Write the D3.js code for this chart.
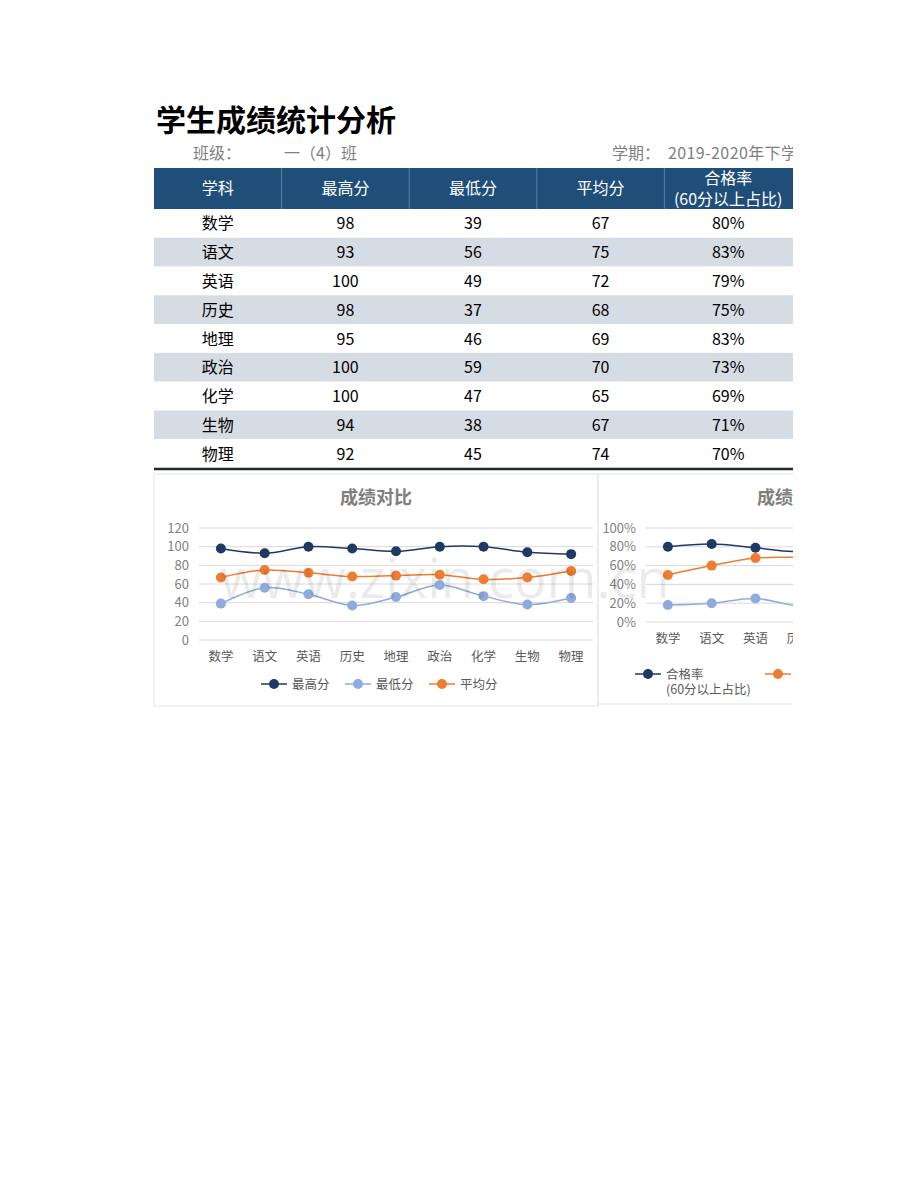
<!DOCTYPE html>
<html><head><meta charset="utf-8">
<script src="https://cdn.jsdelivr.net/npm/d3@7"></script>
<style>
html,body{margin:0;padding:0;background:#fff;}
svg{display:block;font-family:"Noto Sans CJK SC","Noto Sans",sans-serif;}
</style></head>
<body>
<svg id="c" width="920" height="1191"></svg>
<script>
const subjects = ['数学','语文','英语','历史','地理','政治','化学','生物','物理'];
const maxScores = [98,93,100,98,95,100,100,94,92];
const minScores = [39,56,49,37,46,59,47,38,45];
const avgScores = [67,75,72,68,69,70,65,67,74];
const passRates = [80,83,79,75,83,73,69,71,70];
const rateOrange = [50,60,68,69,72,70,64,66,72];
const rateLight = [18,20,25,17,20,30,19,17,21];
const headers = ['学科','最高分','最低分','平均分','合格率'];
const scoreTicks = [0,20,40,60,80,100,120];
const rateTicks = [0,20,40,60,80,100];

const VISIBLE_RIGHT = 793;
const C_DARK = '#203864', C_LIGHT = '#8faadc', C_ORANGE = '#ed7d31';
const svg = d3.select('#c');
svg.append('defs').append('clipPath').attr('id','clip')
  .append('rect').attr('x',0).attr('y',0).attr('width',VISIBLE_RIGHT).attr('height',1191);
const root = svg.append('g').attr('clip-path','url(#clip)');

// Title
root.append('text').attr('x',156).attr('y',131).attr('font-size',30).attr('font-weight',700)
  .attr('fill','#000').text('学生成绩统计分析');
const sub = root.append('g').attr('font-size',16).attr('fill','#7f7f7f');
sub.append('text').attr('x',193).attr('y',159).text('班级：');
sub.append('text').attr('x',284).attr('y',159).text('一（4）班');
sub.append('text').attr('x',612).attr('y',159).text('学期：');
sub.append('text').attr('x',668).attr('y',159).attr('letter-spacing',0.4).text('2019-2020年下学');

// Table
const colX = d3.scaleBand().domain(d3.range(5)).range([154,792]);
const rowY = d3.scaleBand().domain(d3.range(subjects.length)).range([209,468]);
const tbl = root.append('g');
tbl.append('rect').attr('x',154).attr('y',168).attr('width',VISIBLE_RIGHT-154).attr('height',41).attr('fill','#1f4e79');
tbl.selectAll('line.hsep').data(d3.range(1,5)).join('line')
  .attr('x1',d=>colX(d)).attr('x2',d=>colX(d)).attr('y1',168).attr('y2',209)
  .attr('stroke','#5c7fa3').attr('stroke-width',1);
tbl.selectAll('text.h').data(headers).join('text')
  .attr('x',(d,i)=>colX(i)+colX.bandwidth()/2).attr('y',(d,i)=>i===4?184:194)
  .attr('text-anchor','middle').attr('fill','#fff').attr('font-size',16).text(d=>d);
tbl.append('text').attr('x',colX(4)+colX.bandwidth()/2).attr('y',205).attr('text-anchor','middle')
  .attr('fill','#fff').attr('font-size',16).text('(60分以上占比)');
const rows = subjects.map((s,i)=>[s,maxScores[i],minScores[i],avgScores[i],passRates[i]+'%']);
tbl.selectAll('rect.r').data(rows).join('rect')
  .attr('x',154).attr('y',(d,i)=>rowY(i)).attr('width',VISIBLE_RIGHT-154).attr('height',rowY.bandwidth())
  .attr('fill',(d,i)=>i%2?'#d6dce4':'#fff');
rows.forEach((r,i)=>{
  tbl.selectAll(null).data(r).join('text')
    .attr('x',(d,j)=>colX(j)+colX.bandwidth()/2).attr('y',rowY(i)+rowY.bandwidth()/2+6)
    .attr('text-anchor','middle').attr('fill','#000').attr('font-size',16).text(d=>d);
});
tbl.append('line').attr('x1',154).attr('x2',VISIBLE_RIGHT).attr('y1',469).attr('y2',469)
  .attr('stroke','#222a35').attr('stroke-width',2.5);

// Chart helper
function lineChart(g, opt){
  g.append('rect').attr('x',opt.bx).attr('y',opt.by).attr('width',opt.bw).attr('height',opt.bh)
    .attr('fill','#fff').attr('stroke','#e3e3e3').attr('stroke-width',1);
  g.append('text').attr('x',opt.bx+opt.bw/2).attr('y',opt.by+30).attr('text-anchor','middle')
    .attr('font-size',18).attr('font-weight',700).attr('fill','#7f7f7f').text(opt.title);
  const x = d3.scaleBand().domain(subjects).range(opt.xr);
  const y = d3.scaleLinear().domain(opt.yd).range(opt.yr);
  g.selectAll(null).data(opt.ticks).join('line')
    .attr('x1',opt.xr[0]).attr('x2',opt.xr[1]).attr('y1',d=>y(d)).attr('y2',d=>y(d))
    .attr('stroke','#d9d9d9').attr('stroke-width',1);
  const ya = g.append('g').attr('transform',`translate(${opt.xr[0]-7},0)`)
    .call(d3.axisLeft(y).tickValues(opt.ticks).tickSize(0).tickFormat(opt.fmt));
  ya.select('.domain').remove();
  ya.selectAll('text').attr('font-size',13).attr('fill','#7f7f7f').attr('font-family','"Noto Sans CJK SC",sans-serif');
  const xa = g.append('g').attr('transform',`translate(0,${opt.yr[0]})`)
    .call(d3.axisBottom(x).tickSize(0).tickPadding(12));
  xa.select('.domain').remove();
  xa.selectAll('text').attr('font-size',12.5).attr('fill','#595959').attr('font-family','"Noto Sans CJK SC",sans-serif');
  // drop labels that fall entirely outside the visible (cropped) area
  xa.selectAll('.tick').filter(d=>x(d) > VISIBLE_RIGHT).remove();
  const line = d3.line().x((d,i)=>x(subjects[i])+x.bandwidth()/2).y(d=>y(d)).curve(d3.curveCatmullRom.alpha(0.5));
  opt.series.forEach(s=>{
    g.append('path').datum(s.values).attr('d',line).attr('fill','none').attr('stroke',s.color).attr('stroke-width',1.5);
  });
  opt.series.forEach(s=>{
    g.selectAll(null).data(s.values).join('circle')
      .attr('cx',(d,i)=>x(subjects[i])+x.bandwidth()/2).attr('cy',d=>y(d)).attr('r',5).attr('fill',s.color);
  });
  // legend
  opt.legend.forEach(l=>{
    const s = opt.series[l.idx];
    const lg = g.append('g').attr('transform',`translate(${l.x},${l.y})`);
    lg.append('line').attr('x1',0).attr('x2',26).attr('stroke',s.color).attr('stroke-width',1.5);
    lg.append('circle').attr('cx',13).attr('r',5).attr('fill',s.color);
    if (l.x + 31 < VISIBLE_RIGHT) {
      const t = lg.append('text').attr('x',31).attr('y',4.5).attr('font-size',12.5).attr('fill','#595959');
      s.label.forEach((ln,k)=>t.append('tspan').attr('x',31).attr('dy',k?15:0).text(ln));
    }
  });
}

const g1 = root.append('g');
lineChart(g1,{bx:154,by:474,bw:444,bh:232,title:'成绩对比',
  xr:[199,593], yd:[0,120], yr:[640,528], ticks:scoreTicks, fmt:d=>d,
  series:[{values:maxScores,color:C_DARK,label:['最高分']},
          {values:minScores,color:C_LIGHT,label:['最低分']},
          {values:avgScores,color:C_ORANGE,label:['平均分']}],
  legend:[{idx:0,x:261,y:684},{idx:1,x:345,y:684},{idx:2,x:429,y:684}]});

const g2 = root.append('g');
lineChart(g2,{bx:598,by:474,bw:444,bh:230,title:'成绩合格率对比',
  xr:[646,1040], yd:[0,100], yr:[622,528], ticks:rateTicks, fmt:d=>d+'%',
  series:[{values:passRates,color:C_DARK,label:['合格率','(60分以上占比)']},
          {values:rateOrange,color:C_ORANGE,label:['优秀率']},
          {values:rateLight,color:C_LIGHT,label:['低分率']}],
  legend:[{idx:0,x:635,y:674},{idx:1,x:765,y:674},{idx:2,x:870,y:674}]});

// watermark
root.append('text').attr('x',445).attr('y',598).attr('text-anchor','middle')
  .attr('font-size',54).attr('fill','#000').attr('fill-opacity',0.08)
  .attr('font-family','"Open Sans",sans-serif').text('www.zixin.com.cn');
</script>
</body></html>
